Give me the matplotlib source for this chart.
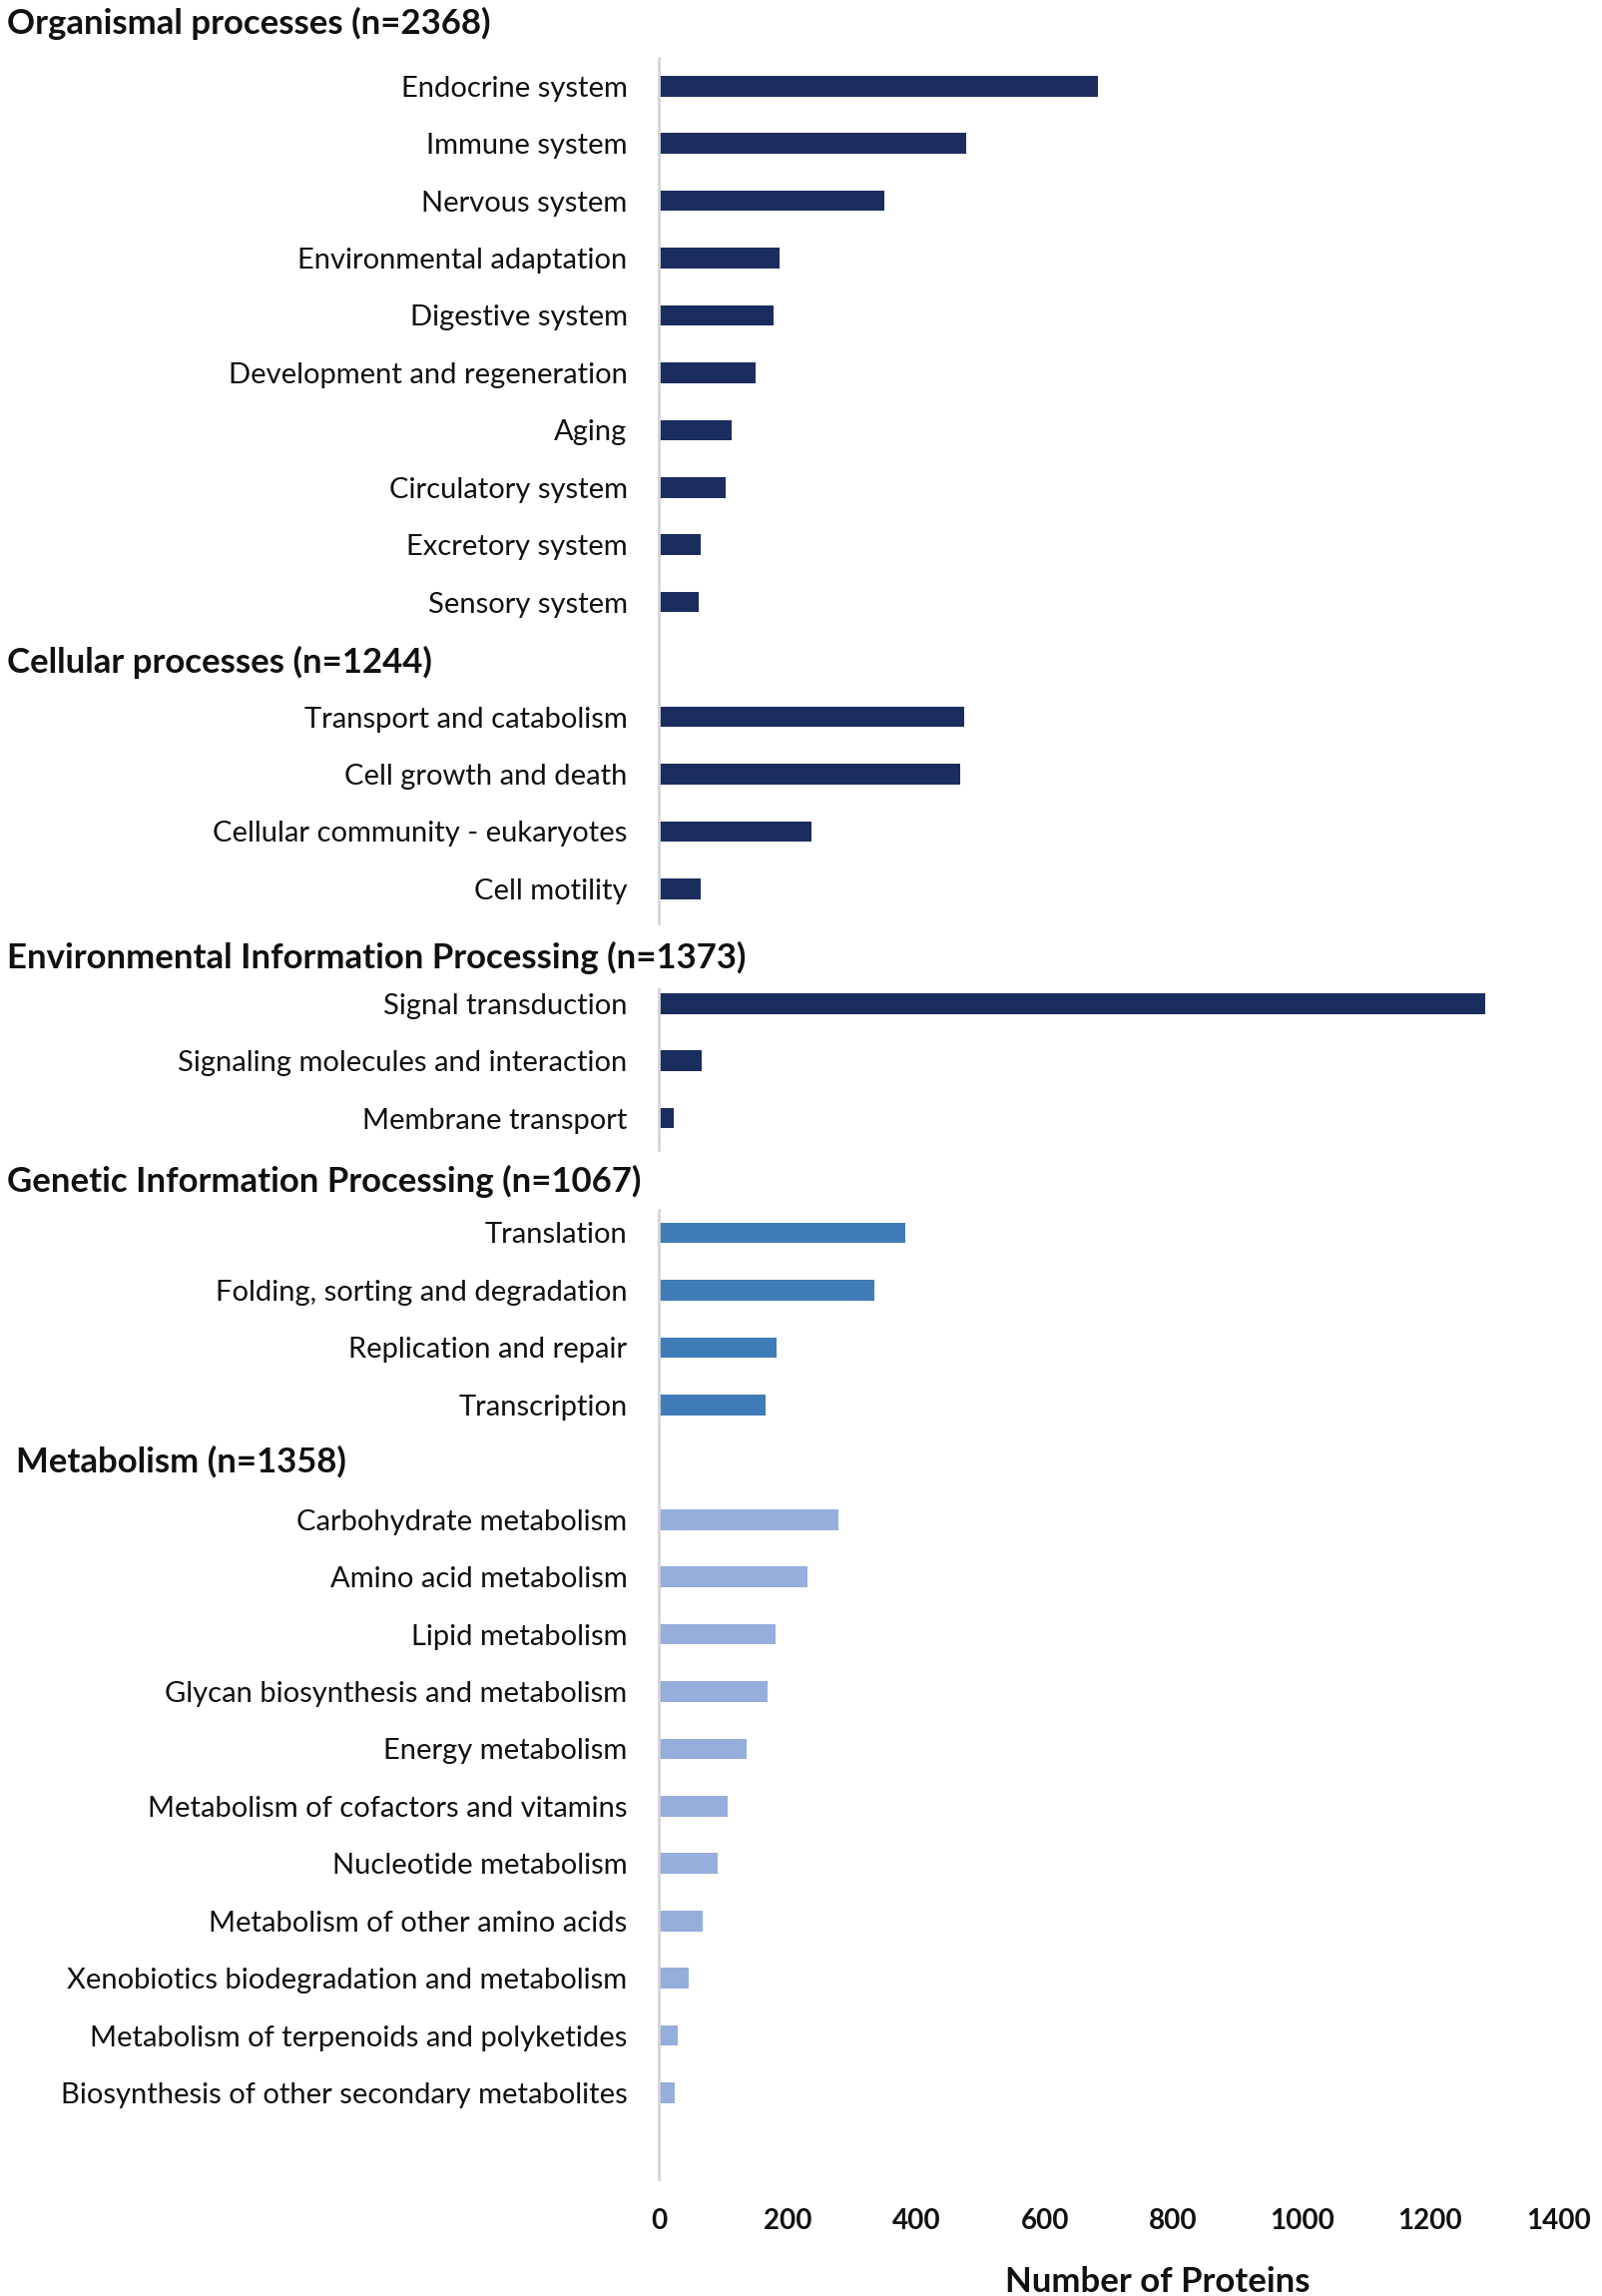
import matplotlib
matplotlib.use("Agg")
import matplotlib.pyplot as plt
from matplotlib.transforms import blended_transform_factory

plt.rcParams["font.family"] = ["Lato", "DejaVu Sans"]

# group headings
organismal_title = "Organismal processes (n=2368)"
cellular_title = "Cellular processes (n=1244)"
environmental_title = "Environmental Information Processing (n=1373)"
genetic_title = "Genetic Information Processing (n=1067)"
metabolism_title = "Metabolism (n=1358)"

organismal_labels = ["Endocrine system", "Immune system", "Nervous system",
                     "Environmental adaptation", "Digestive system",
                     "Development and regeneration", "Aging", "Circulatory system",
                     "Excretory system", "Sensory system"]
organismal_values = [683, 478, 351, 187, 178, 150, 112, 103, 64, 62]

cellular_labels = ["Transport and catabolism", "Cell growth and death",
                   "Cellular community - eukaryotes", "Cell motility"]
cellular_values = [474, 469, 237, 64]

environmental_labels = ["Signal transduction", "Signaling molecules and interaction",
                        "Membrane transport"]
environmental_values = [1285, 66, 22]

genetic_labels = ["Translation", "Folding, sorting and degradation",
                  "Replication and repair", "Transcription"]
genetic_values = [383, 335, 183, 166]

metabolism_labels = ["Carbohydrate metabolism", "Amino acid metabolism",
                     "Lipid metabolism", "Glycan biosynthesis and metabolism",
                     "Energy metabolism", "Metabolism of cofactors and vitamins",
                     "Nucleotide metabolism", "Metabolism of other amino acids",
                     "Xenobiotics biodegradation and metabolism",
                     "Metabolism of terpenoids and polyketides",
                     "Biosynthesis of other secondary metabolites"]
metabolism_values = [279, 231, 181, 168, 136, 106, 91, 67, 46, 29, 24]

x_ticks = [0, 200, 400, 600, 800, 1000, 1200, 1400]

dark = "#1b2d5f"
mid = "#3f7cb8"
light = "#95aedc"

# slot layout: headings take an empty row (except the first one, above the axis)
groups = [
    (organismal_title, organismal_labels, organismal_values, dark, None),
    (cellular_title, cellular_labels, cellular_values, dark, 10),
    (environmental_title, environmental_labels, environmental_values, dark, 15),
    (genetic_title, genetic_labels, genetic_values, mid, 19),
    (metabolism_title, metabolism_labels, metabolism_values, light, 24),
]
# small nudges so the headings sit where they do in the original
heading_shift = [-1.1, 10.05, 15.2, 19.1, 24.0]
heading_x = [0.0045, 0.0045, 0.0045, 0.0045, 0.010]

fig = plt.figure(figsize=(16.05, 23.0), dpi=100)
ax = fig.add_axes([0.4115, 0.051, 0.5615, 0.924])

ypos, labels, vals, cols = [], [], [], []
slot = 0
for title, labs, values, col, hslot in groups:
    if hslot is not None:
        slot = hslot + 1
    for lab, v in zip(labs, values):
        ypos.append(slot)
        labels.append(lab)
        vals.append(v)
        cols.append(col)
        slot += 1

ax.barh(ypos, vals, height=0.36, color=cols, edgecolor="none")
ax.set_yticks(ypos)
ax.set_yticklabels(labels, fontsize=21, color="#111111")
ax.tick_params(axis="y", length=0, pad=23)
ax.set_ylim(36.5, -0.5)
ax.set_xlim(0, 1400)
ax.set_xticks(x_ticks)
ax.set_xticklabels([str(t) for t in x_ticks], fontsize=20, fontweight="bold",
                   color="#111111")
ax.tick_params(axis="x", length=0, pad=21)
ax.set_xlabel("Number of Proteins", fontsize=25, fontweight="bold",
              color="#111111")
ax.xaxis.set_label_coords(0.554, -0.041)
for s in ax.spines.values():
    s.set_visible(False)

# axis line is broken between the separate panels
for y0, y1 in [(-0.5, 14.6), (15.75, 18.55), (19.6, 36.5)]:
    ax.plot([0, 0], [y0, y1], color="#d4d4d4", lw=2, clip_on=False)

trans = blended_transform_factory(fig.transFigure, ax.transData)
for (title, _, _, _, _), yh, hx in zip(groups, heading_shift, heading_x):
    ax.text(hx, yh, title, transform=trans, fontsize=25, fontweight="bold",
            ha="left", va="center", color="#111111")

fig.savefig("out.png", dpi=100, facecolor="white")
